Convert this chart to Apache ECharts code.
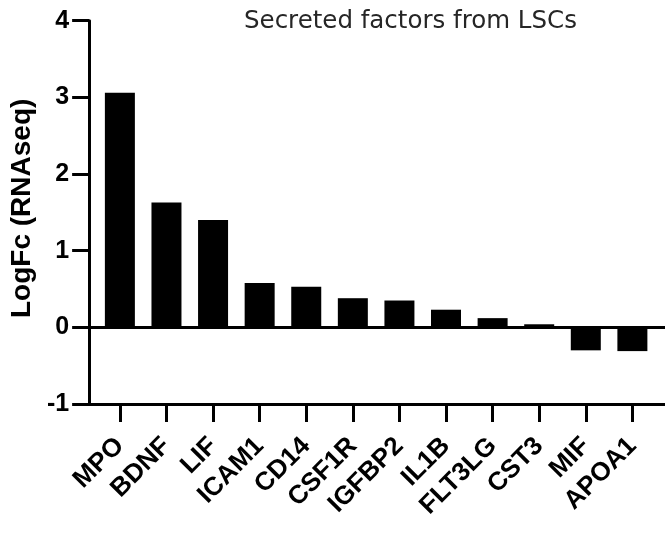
<!DOCTYPE html>
<html>
<head>
<meta charset="utf-8">
<title>Secreted factors from LSCs</title>
<script src="https://cdn.jsdelivr.net/npm/echarts@6/dist/echarts.min.js"></script>
<style>
  html, body { margin: 0; padding: 0; background: #ffffff; }
  #chart { width: 665px; height: 533px; }
</style>
</head>
<body>
<div id="chart"></div>
<script>
// Genes secreted by leukemic stem cells and their log fold change (RNAseq)
const genes = ['MPO', 'BDNF', 'LIF', 'ICAM1', 'CD14', 'CSF1R', 'IGFBP2', 'IL1B', 'FLT3LG', 'CST3', 'MIF', 'APOA1'];
const logFc = [3.06, 1.63, 1.40, 0.58, 0.53, 0.38, 0.35, 0.23, 0.12, 0.04, -0.30, -0.31];
const yTicks = [-1, 0, 1, 2, 3, 4];

const positions = genes.map((_, i) => i);
const barData = logFc.map((v, i) => [positions[i], v]);

const boldFont = '"Liberation Sans", Arial, sans-serif';

const chart = echarts.init(document.getElementById('chart'), null, { renderer: 'canvas' });

chart.setOption({
  animation: false,
  backgroundColor: '#ffffff',
  title: {
    text: 'Secreted factors from LSCs',
    left: 239,
    top: 4,
    textStyle: {
      fontFamily: '"DejaVu Sans", sans-serif',
      fontWeight: 'normal',
      fontSize: 24.5,
      color: '#262626'
    }
  },
  grid: {
    left: 88,
    right: 0,
    top: 20.7,
    bottom: 129
  },
  xAxis: {
    type: 'value',
    min: -0.66,
    max: 11.7,
    splitLine: { show: false },
    axisLine: {
      show: true,
      onZero: false,
      lineStyle: { color: '#000', width: 3 }
    },
    axisTick: {
      show: true,
      customValues: positions,
      length: 18,
      lineStyle: { color: '#000', width: 3 }
    },
    axisLabel: {
      show: true,
      customValues: positions,
      rotate: 45,
      margin: 38,
      formatter: (v) => genes[Math.round(v)],
      fontFamily: boldFont,
      fontWeight: 'bold',
      fontSize: 26,
      color: '#000'
    }
  },
  yAxis: {
    type: 'value',
    min: yTicks[0],
    max: yTicks[yTicks.length - 1],
    interval: 1,
    name: 'LogFc (RNAseq)',
    nameLocation: 'middle',
    nameRotate: 90,
    nameGap: 52,
    nameTextStyle: {
      fontFamily: boldFont,
      fontWeight: 'bold',
      fontSize: 28,
      color: '#000',
      padding: [0, 0, 0, 8]
    },
    splitLine: { show: false },
    axisLine: {
      show: true,
      onZero: false,
      lineStyle: { color: '#000', width: 3 }
    },
    axisTick: {
      show: true,
      length: 17,
      lineStyle: { color: '#000', width: 3 }
    },
    axisLabel: {
      margin: 20,
      fontFamily: boldFont,
      fontWeight: 'bold',
      fontSize: 25,
      color: '#000'
    }
  },
  series: [{
    type: 'bar',
    data: barData,
    barWidth: 30,
    itemStyle: { color: '#000' },
    markLine: {
      silent: true,
      symbol: ['none', 'none'],
      label: { show: false },
      lineStyle: { color: '#000', width: 3, type: 'solid' },
      data: [{ yAxis: 0 }]
    }
  }]
});
</script>
</body>
</html>
